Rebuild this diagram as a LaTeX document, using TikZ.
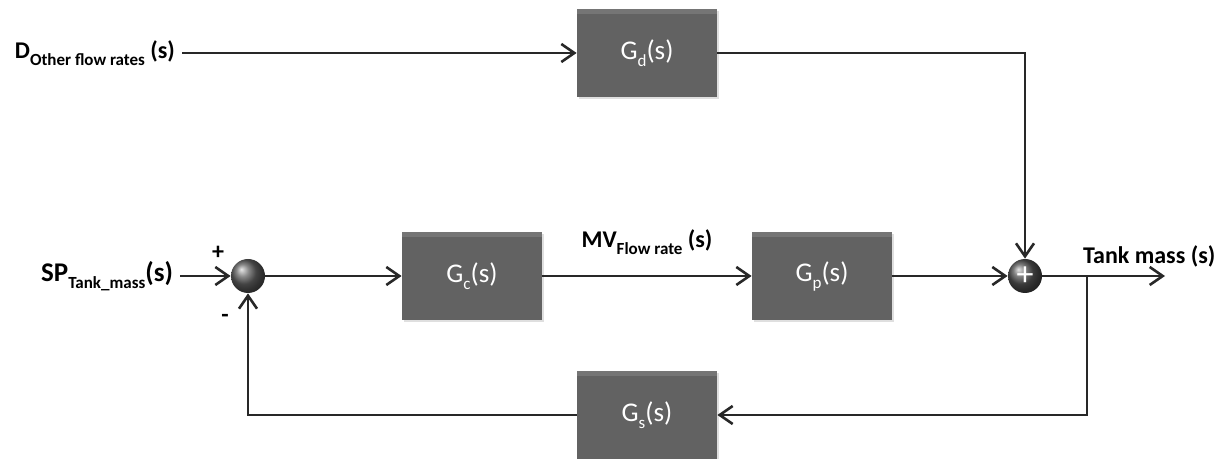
\documentclass[tikz,border=0pt]{standalone}
\usepackage{fontspec}
\setmainfont{Carlito}
\usetikzlibrary{positioning,arrows.meta,shadows}
\definecolor{blockgray}{RGB}{98,98,98}
\definecolor{wiregray}{RGB}{40,40,40}
% lowered subscript as in the labels
\newcommand{\lowsub}[1]{\raisebox{-3.5pt}{\fontsize{8.5}{10}\selectfont #1}}
\tikzset{
  block/.style={rectangle, fill=blockgray, minimum width=70pt, minimum height=44pt,
    text=white, font=\fontsize{13.5}{15}\selectfont,
    drop shadow={opacity=0.25, shadow xshift=0.8pt, shadow yshift=-0.8pt},
    path picture={\fill[white,opacity=0.12] (path picture bounding box.north west)
      rectangle ([yshift=-2.5pt]path picture bounding box.north east);}},
  sumnode/.style={circle, minimum size=17pt, inner sep=0pt, shading=ball},
  lbl/.style={font=\fontsize{12}{14}\selectfont\bfseries, text=black},
  sig/.style={draw=wiregray, line width=1.3pt, -{Straight Barb[length=6.5pt,width=9pt]}}
}

\begin{document}
\begin{tikzpicture}[x=0.5pt,y=-0.5pt]
    \useasboundingbox (0,0) rectangle (1226,459);
    % Draw the blocks
    \node[block] (Gd) at (647,53) {G\lowsub{d}(s)};
    \node[block] (Gc) at (472,276) {G\lowsub{c}(s)};
    \node[block] (Gp) at (822,276) {G\lowsub{p}(s)};
    \node[block] (Gs) at (647,415) {G\lowsub{s}(s)};
    % Summing junctions
    \node[sumnode, ball color=gray!75!black] (sumL) at (248,276) {};
    \node[sumnode, ball color=gray!65!black, text=white,
          font=\fontsize{17}{17}\selectfont] (sumR) at (1025,276) {+};
    % Signal labels
    \node[lbl, anchor=east] (dist) at (182,53) {D\lowsub{Other flow rates} (s)};
    \node[lbl, anchor=east, font=\fontsize{13.5}{15}\selectfont\bfseries] (sp) at (180,276)
        {SP\lowsub{Tank\_mass}(s)};
    \node[lbl] (mv) at (647,242) {MV\lowsub{Flow rate} (s)};
    \node[lbl, anchor=west] (tank) at (1076,256) {Tank mass (s)};
    \node[lbl] (plus) at (218,253) {+};
    \node[lbl] (minus) at (225,318) {-};
    \coordinate (branch) at (1087,276);
    \coordinate (out) at (1165,276);
    % Connect everything
    \draw[sig] (dist) -- (Gd);
    \draw[sig] (Gd.east) -| (sumR.north);
    \draw[sig] (sp) -- (sumL);
    \draw[sig] (sumL) -- (Gc);
    \draw[sig] (Gc) -- (Gp);
    \draw[sig] (Gp) -- (sumR);
    \draw[sig] (sumR) -- (out);
    \draw[sig] (branch) |- (Gs);
    \draw[sig] (Gs) -| (sumL);
\end{tikzpicture}
\end{document}
